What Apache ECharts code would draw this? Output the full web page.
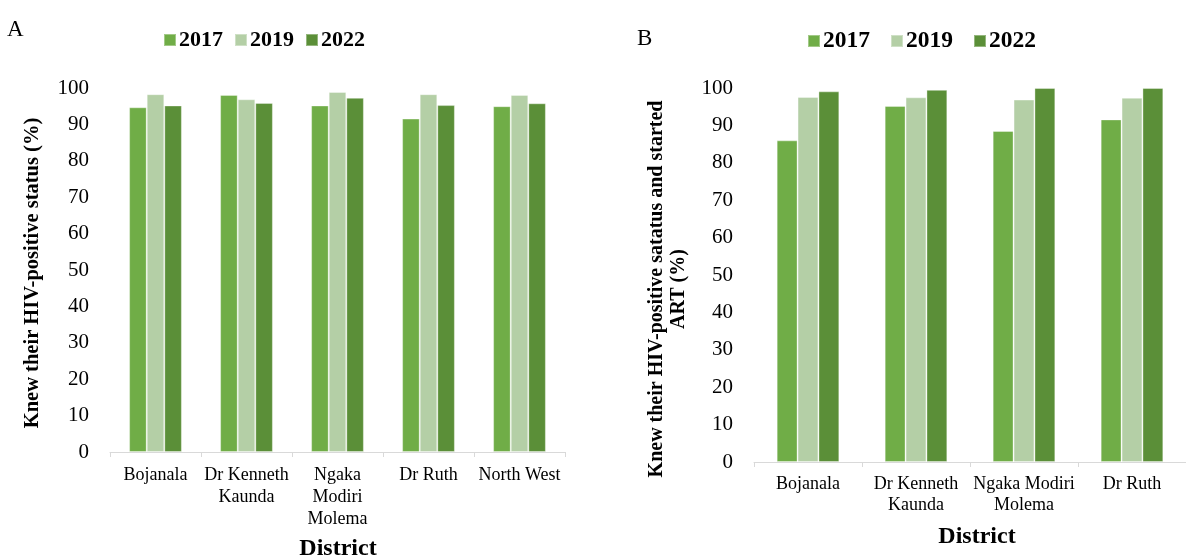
<!DOCTYPE html>
<html>
<head>
<meta charset="utf-8">
<script src="https://cdn.jsdelivr.net/npm/echarts@6/dist/echarts.min.js"></script>
<style>html,body{margin:0;padding:0;background:#fff}#c{width:1186px;height:559px}</style>
</head>
<body>
<div id="c"></div>
<script>
var years = ['2017', '2019', '2022'];
var districtsA = ['Bojanala', 'Dr Kenneth\nKaunda', 'Ngaka\nModiri\nMolema', 'Dr Ruth', 'North West'];
var districtsB = ['Bojanala', 'Dr Kenneth\nKaunda', 'Ngaka Modiri\nMolema', 'Dr Ruth'];
var knewA2017 = [94.7, 98.1, 95.2, 91.6, 95.0];
var knewA2019 = [98.3, 96.9, 98.9, 98.3, 98.1];
var knewA2022 = [95.2, 95.9, 97.3, 95.3, 95.8];
var artB2017 = [86.0, 95.2, 88.5, 91.6];
var artB2019 = [97.6, 97.5, 96.9, 97.4];
var artB2022 = [99.1, 99.5, 100.0, 100.0];
var colors = ['#70AD47', '#B4CFA6', '#5B8F38'];

var font = '"Liberation Serif", "Times New Roman", serif';
var chart = echarts.init(document.getElementById('c'), null, {renderer: 'canvas'});

function bar(name, data, idx, color) {
  return {
    name: name, type: 'bar', xAxisIndex: idx, yAxisIndex: idx, data: data,
    barGap: '0%', barCategoryGap: '42%',
    itemStyle: {color: color, borderColor: 'rgba(255,255,255,0.35)', borderWidth: 1},
    emphasis: {disabled: true}, silent: true
  };
}
function xAxis(idx, cats, lh) {
  return {
    type: 'category', gridIndex: idx, data: cats,
    axisLine: {lineStyle: {color: '#d9d9d9', width: 1}},
    axisTick: {show: true, length: 5, lineStyle: {color: '#d9d9d9'}},
    axisLabel: {fontFamily: font, fontSize: 18, color: '#000', margin: 12, lineHeight: lh, interval: 0}
  };
}
function yAxis(idx) {
  return {
    type: 'value', gridIndex: idx, min: 0, max: 100, interval: 10,
    axisLine: {show: false}, axisTick: {show: false}, splitLine: {show: false},
    axisLabel: {fontFamily: font, fontSize: 21, color: '#000', margin: 21}
  };
}

chart.setOption({
  animation: false,
  color: colors,
  grid: [
    {left: 110, right: 621, top: 88, bottom: 107},
    {left: 754, right: -12, top: 88, bottom: 97}
  ],
  legend: [
    {data: years, left: 158, top: 24, icon: 'rect', itemWidth: 12, itemHeight: 12, itemGap: 11,
     textStyle: {fontFamily: font, fontSize: 22, fontWeight: 'bold', color: '#000', padding: [0,0,0,-2]}},
    {data: years, left: 802, top: 24, icon: 'rect', itemWidth: 12, itemHeight: 12, itemGap: 20,
     textStyle: {fontFamily: font, fontSize: 23.5, fontWeight: 'bold', color: '#000', padding: [0,0,0,-2]}}
  ],
  xAxis: [xAxis(0, districtsA, 22), xAxis(1, districtsB, 21)],
  yAxis: [yAxis(0), yAxis(1)],
  series: [
    bar('2017', knewA2017, 0, colors[0]),
    bar('2019', knewA2019, 0, colors[1]),
    bar('2022', knewA2022, 0, colors[2]),
    bar('2017', artB2017, 1, colors[0]),
    bar('2019', artB2019, 1, colors[1]),
    bar('2022', artB2022, 1, colors[2])
  ],
  graphic: [
    {type: 'text', left: 7, top: 18, style: {text: 'A', font: '23px ' + font, fill: '#000'}},
    {type: 'text', left: 637, top: 27, style: {text: 'B', font: '23px ' + font, fill: '#000'}},
    {type: 'text', x: 33, y: 273, rotation: Math.PI / 2,
     style: {text: 'Knew their HIV-positive status (%)', font: 'bold 20.5px ' + font, fill: '#000', align: 'center', verticalAlign: 'middle'}},
    {type: 'text', x: 668, y: 289, rotation: Math.PI / 2,
     style: {text: 'Knew their HIV-positive satatus and started\nART (%)', font: 'bold 20px ' + font, fill: '#000', align: 'center', verticalAlign: 'middle', lineHeight: 22}},
    {type: 'text', x: 338, y: 549,
     style: {text: 'District', font: 'bold 24px ' + font, fill: '#000', align: 'center', verticalAlign: 'middle'}},
    {type: 'text', x: 977, y: 537,
     style: {text: 'District', font: 'bold 24px ' + font, fill: '#000', align: 'center', verticalAlign: 'middle'}}
  ]
});
</script>
</body>
</html>
